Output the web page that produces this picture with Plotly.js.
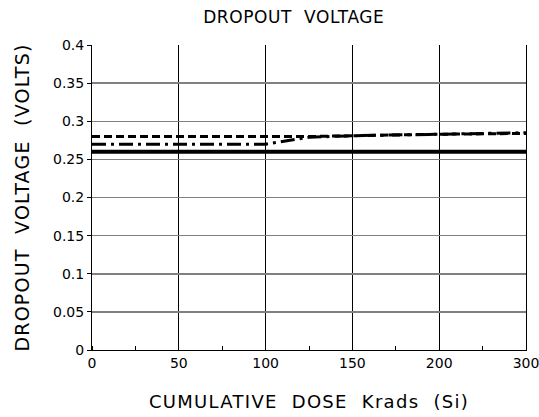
<!DOCTYPE html>
<html>
<head>
<meta charset="utf-8">
<script src="https://cdn.plot.ly/plotly-3.0.1.min.js"></script>
<style>
html,body{margin:0;padding:0;background:#fff;}
#chart{width:539px;height:417px;}
.gtitle{letter-spacing:0.6px;}
.xtitle{letter-spacing:1.3px;}
.ytitle{letter-spacing:1.2px;}
</style>
</head>
<body>
<div id="chart"></div>
<script>
// x positions on the drawn axis (the last interval is labelled 300 in the original)
const dosePos = [0, 50, 100, 125, 150, 200, 250];
const seriesSolid = [0.26, 0.26, 0.26, 0.26, 0.26, 0.26, 0.26];
const seriesDashed = [0.28, 0.28, 0.28, 0.28, 0.281, 0.283, 0.284];
const seriesDashDot = [0.27, 0.27, 0.27, 0.279, 0.281, 0.283, 0.285];
const xTicks = [0, 50, 100, 150, 200, 250];
const xTickLabels = ['0', '50', '100', '150', '200', '300'];
const yTicks = [0, 0.05, 0.1, 0.15, 0.2, 0.25, 0.3, 0.35, 0.4];
const yTickLabels = ['0', '0.05', '0.1', '0.15', '0.2', '0.25', '0.3', '0.35', '0.4'];

const font = 'DejaVu Sans, Arial, sans-serif';
const traces = [
  {x: dosePos, y: seriesSolid, mode: 'lines', line: {color: '#000', width: 4}},
  {x: dosePos, y: seriesDashed, mode: 'lines', line: {color: '#000', width: 3, dash: '8px,4px'}},
  {x: dosePos, y: seriesDashDot, mode: 'lines', line: {color: '#000', width: 3, dash: '14px,5px,3px,5px'}}
];
const layout = {
  width: 539, height: 417,
  margin: {l: 92, r: 13, t: 45, b: 67},
  paper_bgcolor: '#fff', plot_bgcolor: '#fff',
  showlegend: false,
  title: {text: 'DROPOUT  VOLTAGE', font: {family: font, size: 17, color: '#000'}, xref: 'paper', x: 0.465, xanchor: 'center', yref: 'container', y: 0.958, yanchor: 'middle'},
  xaxis: {
    range: [0, 250], tickvals: xTicks, ticktext: xTickLabels,
    showgrid: true, gridcolor: '#000', gridwidth: 1,
    showline: true, linecolor: '#000', linewidth: 1,
    ticks: '', zeroline: false, ticklabeloverflow: 'allow',
    minor: {dtick: 25, tick0: 0, ticks: 'inside', ticklen: 4, tickcolor: '#000', showgrid: false},
    tickfont: {family: font, size: 14, color: '#000'},
    title: {text: 'CUMULATIVE  DOSE  Krads  (Si)', font: {family: font, size: 18, color: '#000'}, standoff: 25}
  },
  yaxis: {
    range: [0, 0.4], tickvals: yTicks, ticktext: yTickLabels,
    showgrid: true, gridcolor: '#808080', gridwidth: 1.5,
    showline: true, linecolor: '#000', linewidth: 1, mirror: true,
    ticks: 'outside', ticklen: 4, tickcolor: '#000', zeroline: false,
    tickfont: {family: font, size: 14, color: '#000'},
    title: {text: 'DROPOUT  VOLTAGE  (VOLTS)', font: {family: font, size: 19, color: '#000'}, standoff: 18}
  }
};
Plotly.newPlot('chart', traces, layout, {displayModeBar: false, staticPlot: true});
</script>
</body>
</html>
